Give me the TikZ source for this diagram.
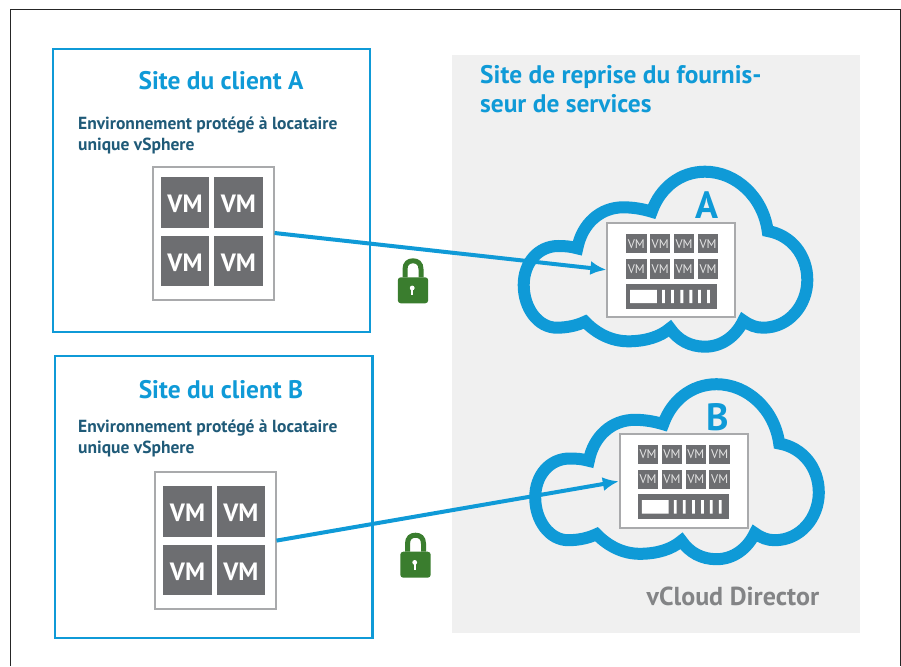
\documentclass[tikz,border=0pt]{standalone}
\usepackage{fontspec}
\setmainfont{PT Sans}
\usetikzlibrary{arrows.meta,positioning}

\definecolor{skyblue}{HTML}{0F9AD7}
\definecolor{tealtext}{HTML}{1F5A78}
\definecolor{vmgray}{HTML}{6D6E71}
\definecolor{edgegray}{HTML}{A9AAAC}
\definecolor{panelgray}{HTML}{F0F0F0}
\definecolor{lockgreen}{HTML}{3A7D2E}

\tikzset{
  cloudshape/.pic={
    \draw[skyblue,line width=12pt,miter limit=10]
      (77.3,98.3) .. controls (71,96.5) and (65,96) .. (58.3,96)
      .. controls (38,96) and (23.7,113) .. (23.7,135)
      .. controls (23.7,158) and (38,177.7) .. (56.7,177.7)
      .. controls (67,177.7) and (77,175.5) .. (85,171.7)
      .. controls (97,184) and (112,191.3) .. (128.3,191.3)
      .. controls (145,191.3) and (160,187) .. (170,178.3)
      .. controls (178,190) and (190,196.7) .. (205,196.7)
      .. controls (222,196.7) and (236,186) .. (243.3,170.7)
      .. controls (250,175.5) and (256,177.7) .. (263.3,177.7)
      .. controls (289,177.7) and (307.3,155) .. (307.3,130)
      .. controls (307.3,105) and (291,85) .. (267.7,81)
      .. controls (263,47) and (236,21.7) .. (205,21.7)
      .. controls (180,21.7) and (160,38) .. (151.7,61.7)
      .. controls (143,59) and (133,57.3) .. (123.3,57.3)
      .. controls (100,57.3) and (82,74) .. (77.3,98.3) -- cycle;
  },
  padlock/.pic={
    \draw[lockgreen,line width=5pt] (-8,-26) -- (-8,-34)
      .. controls (-8,-40) and (-4.5,-42.5) .. (0,-42.5)
      .. controls (4.5,-42.5) and (8,-40) .. (8,-34) -- (8,-26);
    \fill[lockgreen,rounded corners=3pt] (-15.2,-26) rectangle (15.2,0);
    \fill[white] (-0.8,-15.3) circle (2.4pt);
    \fill[white] (-2,-15) rectangle (0.4,-8);
  },
  rackface/.pic={
    \fill[white] (4.3,-6.7) rectangle (31,6.7)
      (36.2,-6.7) rectangle (39,6.7) (45.2,-6.7) rectangle (48,6.7)
      (54.6,-6.7) rectangle (57.4,6.7) (63.6,-6.7) rectangle (66.4,6.7)
      (72.2,-6.7) rectangle (75,6.7) (81.2,-6.7) rectangle (84,6.7);
  }
}

\begin{document}
\begin{tikzpicture}[
    x=1pt,y=-1pt,
    site/.style={rectangle,draw=skyblue,line width=2.3pt,fill=white,inner sep=0},
    host/.style={rectangle,draw=edgegray,line width=2pt,fill=white,minimum width=121pt,minimum height=133pt,inner sep=0},
    vm/.style={rectangle,fill=vmgray,text=white,font=\fontsize{25}{25}\selectfont\bfseries,text height=20.5pt,text depth=0pt,minimum width=48.5pt,minimum height=50.5pt,inner sep=0},
    server/.style={rectangle,draw=edgegray,line width=2pt,fill=white,minimum width=128pt,minimum height=94pt,inner sep=0},
    vmsmall/.style={rectangle,fill=vmgray,text=white!90!black,font=\fontsize{12.5}{12.5}\selectfont,minimum width=20.5pt,minimum height=19.3pt,inner sep=0},
    rack/.style={rectangle,fill=vmgray,minimum width=91pt,minimum height=25pt,inner sep=0},
    sitetitle/.style={text=skyblue,font=\fontsize{25.4}{29}\selectfont\bfseries,align=left,inner sep=0},
    envtext/.style={text=tealtext,font=\fontsize{17.5}{20.5}\selectfont\bfseries,align=left,inner sep=0},
    cloudletter/.style={text=skyblue,font=\fontsize{38}{38}\selectfont\bfseries,inner sep=0},
    link/.style={-{Latex[length=16pt,width=14pt]},skyblue,line width=4pt}
  ]
  \useasboundingbox (0,0) rectangle (901,666);
  \fill[white] (0,0) rectangle (901,666);

  % Outer frame, open at the bottom
  \draw[black!85,line width=1pt] (10.5,666) -- (10.5,9.5) -- (900,9.5) -- (900,666);

  % Provider panel
  \node[rectangle,fill=panelgray,minimum width=408pt,minimum height=578pt,inner sep=0] (panel) at (656,344) {};
  \node[sitetitle,anchor=north west] (panelTitle) at (480,65.5) {Site de reprise du fournis-\\seur de services};
  \node[sitetitle,text=vmgray!85,font=\fontsize{26}{29}\selectfont\bfseries,anchor=base west] (director) at (646.5,605) {vCloud Director};

  % Site A
  \node[site,minimum width=317pt,minimum height=282.5pt] (siteA) at (211.4,190.6) {};
  \node[sitetitle] (titleA) at (221,81) {Site du client A};
  \node[envtext,anchor=north west] (envA) at (78,117) {Environnement protégé à locataire\\unique vSphere};
  \node[host] (hostA) at (213,233) {};
  \node[vm] (vmA1) at (185,202.5) {VM};
  \node[vm,right=4.5pt of vmA1] (vmA2) {VM};
  \node[vm,below=7.5pt of vmA1] (vmA3) {VM};
  \node[vm,right=4.5pt of vmA3] (vmA4) {VM};

  % Site B
  \node[site,minimum width=317.5pt,minimum height=282pt] (siteB) at (213.8,497) {};
  \node[sitetitle] (titleB) at (221,390) {Site du client B};
  \node[envtext,anchor=north west] (envB) at (78,420) {Environnement protégé à locataire\\unique vSphere};
  \node[host,minimum height=136.5pt] (hostB) at (215,540.6) {};
  \node[vm] (vmB1) at (187.5,511.7) {VM};
  \node[vm,right=4.5pt of vmB1] (vmB2) {VM};
  \node[vm,below=7.5pt of vmB1] (vmB3) {VM};
  \node[vm,right=4.5pt of vmB3] (vmB4) {VM};

  % Cloud A
  \pic at (500,150) {cloudshape};
  \node[cloudletter] (letterA) at (707,205) {A};
  \node[server] (serverA) at (671.4,269.8) {};
  \node[vmsmall] (smA1) at (636.3,243.8) {VM};
  \node[vmsmall,right=3pt of smA1] (smA2) {VM};
  \node[vmsmall,right=3pt of smA2] (smA3) {VM};
  \node[vmsmall,right=3pt of smA3] (smA4) {VM};
  \node[vmsmall,below=5.4pt of smA1] (smA5) {VM};
  \node[vmsmall,right=3pt of smA5] (smA6) {VM};
  \node[vmsmall,right=3pt of smA6] (smA7) {VM};
  \node[vmsmall,right=3pt of smA7] (smA8) {VM};
  \node[rack,below=5pt of smA5.south west,anchor=north west] (rackA) {};
  \pic at (rackA.west) {rackface};

  % Cloud B
  \pic at (511.5,362.5) {cloudshape};
  \node[cloudletter] (letterB) at (718,417) {B};
  \node[server] (serverB) at (683.8,481.3) {};
  \node[vmsmall] (smB1) at (648,454.2) {VM};
  \node[vmsmall,right=3pt of smB1] (smB2) {VM};
  \node[vmsmall,right=3pt of smB2] (smB3) {VM};
  \node[vmsmall,right=3pt of smB3] (smB4) {VM};
  \node[vmsmall,below=5.4pt of smB1] (smB5) {VM};
  \node[vmsmall,right=3pt of smB5] (smB6) {VM};
  \node[vmsmall,right=3pt of smB6] (smB7) {VM};
  \node[vmsmall,right=3pt of smB7] (smB8) {VM};
  \node[rack,below=5pt of smB5.south west,anchor=north west] (rackB) {};
  \pic at (rackB.west) {rackface};

  % Replication links
  \draw[link] (hostA.east) -- (serverA.west);
  \draw[link] (hostB.east) -- (serverB.west);

  % Locks
  \pic at (413,303.3) {padlock};
  \pic at (415.5,577.7) {padlock};
\end{tikzpicture}
\end{document}
